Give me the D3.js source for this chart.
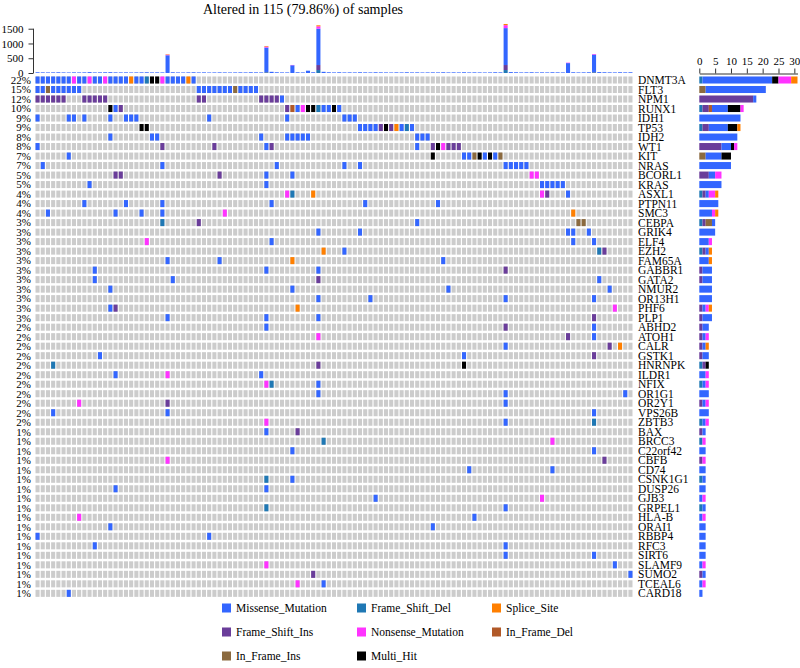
<!DOCTYPE html>
<html><head><meta charset="utf-8">
<script src="https://cdn.jsdelivr.net/npm/d3@7"></script>
<style>body{margin:0;background:#fff} svg{display:block} svg text{font-family:"Liberation Serif","DejaVu Serif",serif !important;fill:#000}</style>
</head><body><svg id="c" width="800" height="668" font-family="Liberation Serif"></svg>
<script>
const genes = ["DNMT3A","FLT3","NPM1","RUNX1","IDH1","TP53","IDH2","WT1","KIT","NRAS","BCORL1","KRAS","ASXL1","PTPN11","SMC3","CEBPA","GRIK4","ELF4","EZH2","FAM65A","GABBR1","GATA2","NMUR2","OR13H1","PHF6","PLP1","ABHD2","ATOH1","CALR","GSTK1","HNRNPK","ILDR1","NFIX","OR1G1","OR2Y1","VPS26B","ZBTB3","BAX","BRCC3","C22orf42","CBFB","CD74","CSNK1G1","DUSP26","GJB3","GRPEL1","HLA-B","ORAI1","RBBP4","RFC3","SIRT6","SLAMF9","SUMO2","TCEAL6","CARD18"];
const pctLabels = ["22%","15%","12%","10%","9%","9%","8%","8%","7%","7%","5%","5%","4%","4%","4%","3%","3%","3%","3%","3%","3%","3%","3%","3%","3%","3%","2%","2%","2%","2%","2%","2%","2%","2%","2%","2%","2%","1%","1%","1%","1%","1%","1%","1%","1%","1%","1%","1%","1%","1%","1%","1%","1%","1%","1%"];
const nSamples = 115;
// sample index + variant code, one string per gene (codes below)
const mutations = [
 "0M 1M 2M 3M 4M 5M 6M 7N 8M 9M 10N 11M 12M 13N 14M 15M 16M 17M 18S 19M 20M 21D 22H 23H 24N 25M 26M 27M 28M 29S 30M",
 "0M 1M 2i 3M 4M 5M 6M 7M 8M 31M 32M 33M 34M 35M 36M 37M 38i 39M 40M 41M 42M",
 "0I 1I 2I 3I 4I 5I 9I 10I 11I 12I 13I 31I 32I 43I 44I 45I 46I 47M",
 "14H 15M 16I 48I 49d 50M 51N 52H 53H 54D 55M 56M 57H 58M",
 "0M 6M 7M 9M 14M 17M 18M 19M 33M 48M 59M 60M 61M",
 "20H 21H 62M 63M 64M 65M 66I 67H 68I 69S 70M 71D 72M",
 "14M 22M 23M 43M 48M 49M 50M 51M 52M 73M 74M 75M",
 "0M 24I 34I 44M 45I 73M 76I 77H 78N 79I 80I 81I",
 "6M 76H 82M 83M 84i 85H 86M 87H 88M 89i",
 "1M 24M 46M 59M 62M 90M 91M 92M 93M 94M",
 "15I 16I 35I 44M 49M 95N 96N",
 "10M 44M 97M 98M 99M 100M 101M",
 "48N 49D 53S 97N 98I 102M",
 "9M 17M 24M 45M 63M 77M",
 "2M 15M 20M 24M 36N 103S",
 "24D 31I 73M 104i 105i",
 "54M 62M 102M 103M 106M",
 "21N 45M 103M 107M",
 "55S 59M 108D 109I",
 "25M 35M 49S 78M",
 "11M 44M 54M 90I",
 "11M 26M 54I 108M",
 "14M 49M 79M 110M",
 "54M 64M 90M 107M",
 "14M 15I 50S 111N",
 "25M 44M 54M 107I",
 "44M 90I 107M",
 "54N 102I 107M",
 "90M 110I 112S",
 "12M 82M 107I",
 "3D 54I 82H",
 "15M 25N 43M",
 "44N 45D 54M",
 "54M 90M 113M",
 "8N 25I 90M",
 "3M 25M 107M",
 "44N 90M 107D",
 "44M 50I",
 "55D 99N",
 "49M 107M",
 "25N 109I",
 "83M 99M",
 "44D 49M",
 "15M 44M",
 "65M 97N",
 "44D 90M",
 "8N 84M",
 "14M 76M",
 "0M 33M",
 "11M 90M",
 "90M 107M",
 "44N 111M",
 "53I 114M",
 "50N 55M",
 "6M"
];
const codes = {D:"Frame_Shift_Del", I:"Frame_Shift_Ins", d:"In_Frame_Del", i:"In_Frame_Ins", M:"Missense_Mutation", H:"Multi_Hit", N:"Nonsense_Mutation", S:"Splice_Site"};
const stackOrder = ["Frame_Shift_Del","Frame_Shift_Ins","In_Frame_Del","In_Frame_Ins","Missense_Mutation","Multi_Hit","Nonsense_Mutation","Splice_Site"];
const legendOrder = ["Missense_Mutation","Frame_Shift_Del","Splice_Site","Frame_Shift_Ins","Nonsense_Mutation","In_Frame_Del","In_Frame_Ins","Multi_Hit"];
const vcColors = ["#3366FF","#1F78B4","#FF7F00","#6A3D9A","#FF33FF","#B15928","#8B6A3F","#000000"]; // in legendOrder
// mutation burden per sample (top bar)
const tmbTotal = [25,22,20,22,25,20,18,22,20,22,30,20,22,25,28,22,20,22,18,20,22,25,20,22,20,635,25,20,18,22,25,20,22,18,20,22,20,18,20,22,20,25,22,20,915,40,25,20,20,272,25,20,78,25,1615,40,25,20,25,20,22,20,25,22,20,25,22,20,18,22,20,25,20,22,18,20,22,20,25,20,22,20,25,20,22,20,18,20,25,22,1660,30,25,20,22,25,20,22,20,25,22,20,350,25,20,22,25,643,30,25,22,20,25,22,25];
const tmbFrameShiftDel = [[44,25],[54,100],[90,100],[107,25]];
const tmbFrameShiftIns = [[44,10],[54,170],[90,170],[107,10]];
const tmbNonsense = [[25,20],[44,35],[49,10],[54,80],[90,100],[102,15],[107,20]];
const tmbSplice = [[25,15],[44,20],[54,35],[90,40]];
const title = "Altered in 115 (79.86%) of samples";
const tmbTicks = [0,500,1000,1500];
const sideTicks = [0,5,10,15,20,25,30];

const FONT = "Liberation Serif, DejaVu Serif, serif";
const color = d3.scaleOrdinal().domain(legendOrder).range(vcColors);
const svg = d3.select("#c");

const cells = [];
mutations.forEach((s,gi)=>{
  s.split(" ").forEach(tok=>{
    const col = +tok.slice(0,-1), vc = codes[tok.slice(-1)];
    cells.push({gene:genes[gi], col, vc});
  });
});

const x = d3.scaleBand().domain(d3.range(nSamples)).range([35,633]).paddingInner(0.22).paddingOuter(0.1);
const y = d3.scaleBand().domain(genes).range([75.25,598.1]).paddingInner(0.26).paddingOuter(0.13);

const g = svg.append("g");
genes.forEach(gn=>{
  g.selectAll(null).data(d3.range(nSamples)).join("rect")
    .attr("x",c=>x(c)).attr("y",y(gn)).attr("width",x.bandwidth()).attr("height",y.bandwidth())
    .attr("fill","#CCCCCC");
});
g.selectAll(null).data(cells).join("rect")
  .attr("x",d=>x(d.col)).attr("y",d=>y(d.gene)).attr("width",x.bandwidth()).attr("height",y.bandwidth())
  .attr("fill",d=>color(d.vc));

svg.append("g").selectAll("text").data(genes).join("text")
  .attr("x",638).attr("y",d=>y(d)+y.bandwidth()/2).attr("dy","0.35em")
  .attr("font-family",FONT).style("font-size","11.5px").text(d=>d);
svg.append("g").selectAll("text").data(pctLabels).join("text")
  .attr("x",31).attr("text-anchor","end").attr("y",(d,i)=>y(genes[i])+y.bandwidth()/2).attr("dy","0.35em")
  .attr("font-family",FONT).style("font-size","11px").text(d=>d);

const tmbRows = tmbTotal.map((t,i)=>{
  const r = {col:i};
  stackOrder.forEach(k=>r[k]=0);
  const pick = arr => { const e = arr.find(p=>p[0]===i); return e?e[1]:0; };
  r.Frame_Shift_Del = pick(tmbFrameShiftDel);
  r.Frame_Shift_Ins = pick(tmbFrameShiftIns);
  r.Nonsense_Mutation = pick(tmbNonsense);
  r.Splice_Site = pick(tmbSplice);
  r.Missense_Mutation = t - r.Frame_Shift_Del - r.Frame_Shift_Ins - r.Nonsense_Mutation - r.Splice_Site;
  return r;
});
const maxT = d3.max(tmbTotal);
const yTop = d3.scaleLinear().domain([0,maxT]).range([73,73-maxT*0.02953]);
const tstack = d3.stack().keys(stackOrder)(tmbRows);
svg.append("g").selectAll("g").data(tstack).join("g").attr("fill",d=>color(d.key))
  .selectAll("rect").data(d=>d).join("rect")
  .attr("x",d=>x(d.data.col)).attr("width",x.bandwidth())
  .attr("y",d=>yTop(d[1])).attr("height",d=>Math.max(0,yTop(d[0])-yTop(d[1])));
const ax1 = svg.append("g").attr("transform","translate(33.5,0)")
  .call(d3.axisLeft(yTop).tickValues(tmbTicks).tickFormat(d3.format("d")).tickSize(5).tickPadding(5).tickSizeOuter(0));
ax1.attr("font-family",FONT);
ax1.selectAll("text").style("font-size","11px");
ax1.selectAll("path,line").attr("stroke","#333");
ax1.select(".domain").attr("d",`M0,${yTop(0)}V${yTop(1500)}`);

svg.append("text").attr("x",303).attr("y",14).attr("text-anchor","middle")
  .attr("font-family",FONT).style("font-size","14px").text(title);

const sideRows = genes.map(gn=>{
  const r = {gene:gn};
  stackOrder.forEach(k=>r[k]=cells.filter(c=>c.gene===gn && c.vc===k).length);
  return r;
});
const xs = d3.scaleLinear().domain([0,31]).range([699.3,797.5]);
const sstack = d3.stack().keys(stackOrder)(sideRows);
svg.append("g").selectAll("g").data(sstack).join("g").attr("fill",d=>color(d.key))
  .selectAll("rect").data(d=>d).join("rect")
  .attr("y",d=>y(d.data.gene)).attr("height",y.bandwidth())
  .attr("x",d=>xs(d[0])).attr("width",d=>xs(d[1])-xs(d[0]));
const ax2 = svg.append("g").attr("transform","translate(0,73.5)")
  .call(d3.axisTop(xs).tickValues(sideTicks).tickSize(5).tickPadding(4).tickSizeOuter(0));
ax2.attr("font-family",FONT);
ax2.selectAll("text").style("font-size","11px");
ax2.selectAll("path,line").attr("stroke","#333");

const lg = svg.append("g").attr("font-family",FONT);
legendOrder.forEach((k,i)=>{
  const cx = 222 + (i%3)*135, cy = 608 + Math.floor(i/3)*24;
  lg.append("rect").attr("x",cx).attr("y",cy-4.5).attr("width",9).attr("height",9).attr("fill",color(k));
  lg.append("text").attr("x",cx+14).attr("y",cy).attr("dy","0.35em").style("font-size","11.5px").text(k);
});
</script></body></html>
